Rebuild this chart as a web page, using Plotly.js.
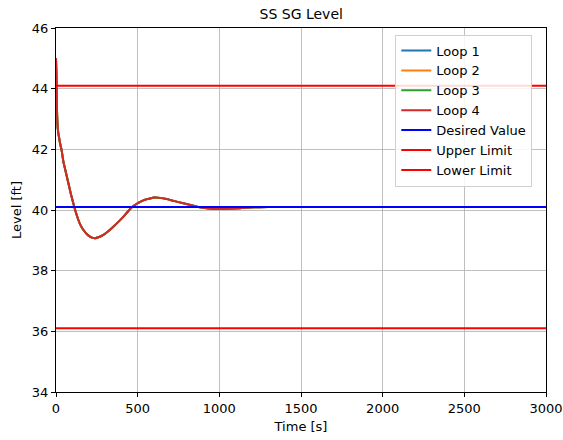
<!DOCTYPE html>
<html>
<head>
<meta charset="utf-8">
<script src="https://cdn.plot.ly/plotly-3.0.1.min.js"></script>
<style>html,body{margin:0;padding:0;background:#fff;}#chart{width:563px;height:440px;}</style>
</head>
<body>
<div id="chart"></div>
<script>
// Time samples [s]
const time = [0, 3, 6, 10, 15, 20, 25, 35, 45, 60, 76, 90, 106, 120, 137, 150, 168, 190, 208, 225, 239, 260, 290, 320, 351, 380, 413, 440, 464, 490, 515, 545, 576, 600, 637, 678, 720, 780, 862, 923, 1005, 1060, 1127, 1208, 1300, 1400, 1600, 2000, 2500, 3000];
// Steam generator level per loop [ft]
const loop1 = [45.0, 44.4, 43.3, 42.75, 42.5, 42.35, 42.2, 41.95, 41.6, 41.25, 40.88, 40.55, 40.22, 39.95, 39.67, 39.5, 39.34, 39.2, 39.12, 39.08, 39.07, 39.1, 39.18, 39.3, 39.45, 39.6, 39.78, 39.95, 40.09, 40.19, 40.27, 40.34, 40.38, 40.41, 40.40, 40.36, 40.3, 40.22, 40.11, 40.06, 40.03, 40.04, 40.06, 40.09, 40.1, 40.1, 40.1, 40.1, 40.1, 40.1];
const loop2 = [45.0, 44.4, 43.3, 42.75, 42.5, 42.35, 42.2, 41.95, 41.6, 41.25, 40.88, 40.55, 40.22, 39.95, 39.67, 39.5, 39.34, 39.2, 39.12, 39.08, 39.07, 39.1, 39.18, 39.3, 39.45, 39.6, 39.78, 39.95, 40.09, 40.19, 40.27, 40.34, 40.38, 40.41, 40.40, 40.36, 40.3, 40.22, 40.11, 40.06, 40.03, 40.04, 40.06, 40.09, 40.1, 40.1, 40.1, 40.1, 40.1, 40.1];
const loop3 = [45.0, 44.4, 43.3, 42.75, 42.5, 42.35, 42.2, 41.95, 41.6, 41.25, 40.88, 40.55, 40.22, 39.95, 39.67, 39.5, 39.34, 39.2, 39.12, 39.08, 39.07, 39.1, 39.18, 39.3, 39.45, 39.6, 39.78, 39.95, 40.09, 40.19, 40.27, 40.34, 40.38, 40.41, 40.40, 40.36, 40.3, 40.22, 40.11, 40.06, 40.03, 40.04, 40.06, 40.09, 40.1, 40.1, 40.1, 40.1, 40.1, 40.1];
const loop4 = [45.0, 44.4, 43.3, 42.75, 42.5, 42.35, 42.2, 41.95, 41.6, 41.25, 40.88, 40.55, 40.22, 39.95, 39.67, 39.5, 39.34, 39.2, 39.12, 39.08, 39.07, 39.1, 39.18, 39.3, 39.45, 39.6, 39.78, 39.95, 40.09, 40.19, 40.27, 40.34, 40.38, 40.41, 40.40, 40.36, 40.3, 40.22, 40.11, 40.06, 40.03, 40.04, 40.06, 40.09, 40.1, 40.1, 40.1, 40.1, 40.1, 40.1];
// Reference levels [ft]
const refTime = [0, 3000];
const desiredValue = [40.1, 40.1];
const upperLimit = [44.1, 44.1];
const lowerLimit = [36.1, 36.1];

const seriesNames = ["Loop 1", "Loop 2", "Loop 3", "Loop 4", "Desired Value", "Upper Limit", "Lower Limit"];
const xTicks = [0, 500, 1000, 1500, 2000, 2500, 3000];
const yTicks = [34, 36, 38, 40, 42, 44, 46];

const font = "DejaVu Sans, sans-serif";
const mk = (x, y, name, color, width) => ({
  x: x, y: y, name: name, type: "scatter", mode: "lines",
  line: {color: color, width: width, shape: "spline", smoothing: 0.5}
});
const traces = [
  mk(time, loop1, seriesNames[0], "#1f77b4", 2),
  mk(time, loop2, seriesNames[1], "#ff7f0e", 2),
  mk(time, loop3, seriesNames[2], "#2ca02c", 2),
  mk(time, loop4, seriesNames[3], "#d62728", 2),
  mk(refTime, desiredValue, seriesNames[4], "#0000ff", 2),
  mk(refTime, upperLimit, seriesNames[5], "#ff0000", 2),
  mk(refTime, lowerLimit, seriesNames[6], "#ff0000", 2)
];

const axisCommon = {
  showline: true, linecolor: "#000", linewidth: 1, mirror: true,
  ticks: "outside", ticklen: 4, tickcolor: "#000", tickwidth: 1,
  showgrid: true, gridcolor: "#b0b0b0", gridwidth: 0.8,
  zeroline: false, tickfont: {family: font, size: 13, color: "#000"}
};

const layout = {
  width: 563, height: 440,
  margin: {l: 56, r: 17, t: 28, b: 48},
  paper_bgcolor: "#fff", plot_bgcolor: "#fff",
  title: {text: "SS SG Level", font: {family: font, size: 14, color: "#000"}, x: 0.535, xanchor: "center", y: 0.968, yanchor: "middle"},
  xaxis: Object.assign({}, axisCommon, {
    range: [0, 3000], tickvals: xTicks, ticktext: xTicks.map(String),
    title: {text: "Time [s]", font: {family: font, size: 13, color: "#000"}, standoff: 7}
  }),
  yaxis: Object.assign({}, axisCommon, {
    range: [34, 46], tickvals: yTicks, ticktext: yTicks.map(String),
    title: {text: "Level [ft]", font: {family: font, size: 13, color: "#000"}, standoff: 7}
  }),
  showlegend: true,
  legend: {
    x: 0.972, y: 0.982, xanchor: "right", yanchor: "top",
    bgcolor: "rgba(255,255,255,0.85)", bordercolor: "#d0d0d0", borderwidth: 1,
    font: {family: font, size: 13, color: "#000"}, itemwidth: 30, tracegroupgap: 0
  }
};

Plotly.newPlot("chart", traces, layout, {displayModeBar: false, staticPlot: true});
</script>
</body>
</html>
